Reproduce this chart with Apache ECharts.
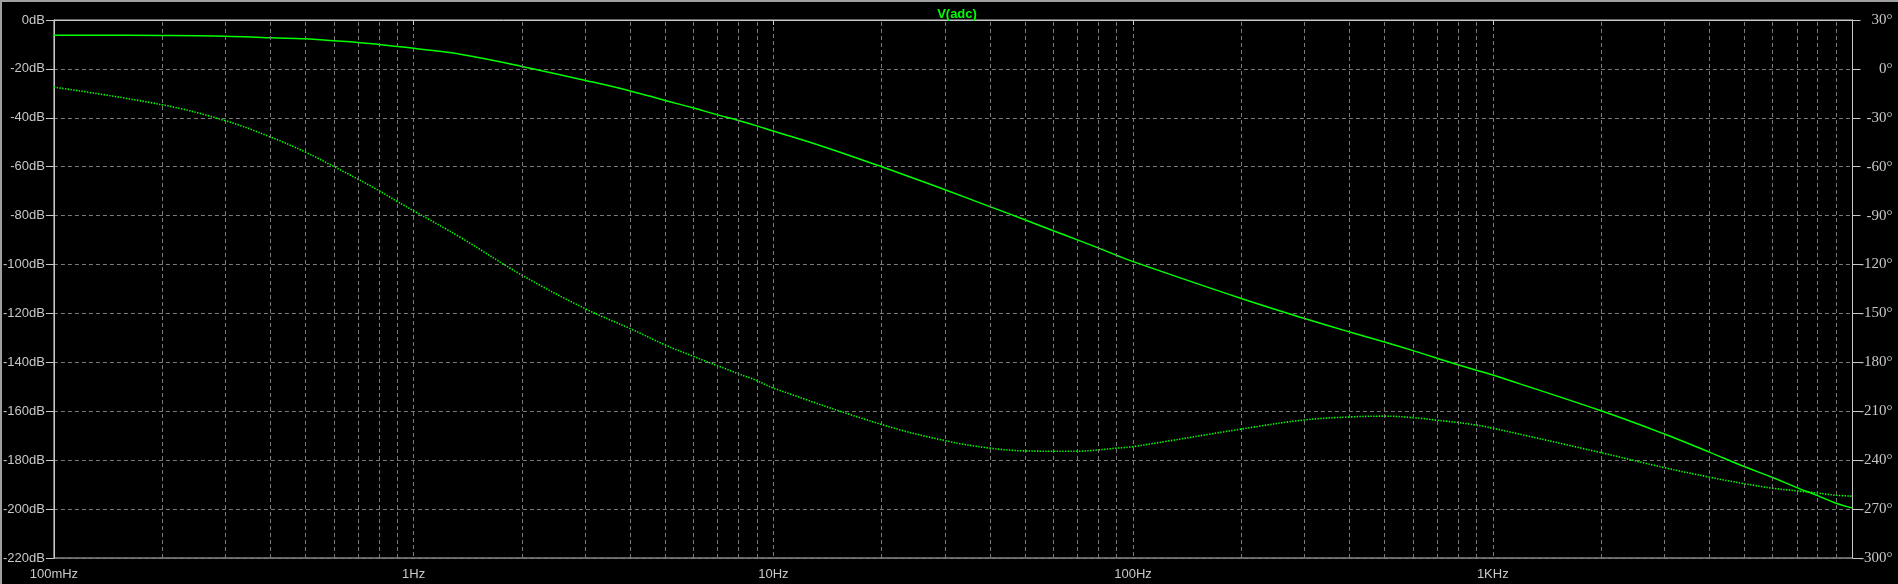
<!DOCTYPE html>
<html>
<head>
<meta charset="utf-8">
<script src="https://cdn.jsdelivr.net/npm/echarts@6/dist/echarts.min.js"></script>
<style>
html,body{margin:0;padding:0;background:#000;}
#c{width:1898px;height:584px;}
</style>
</head>
<body>
<div id="c"></div>
<script>
// Frequencies (Hz) where values were read
const freqs = [0.1,0.2,0.3,0.4,0.5,0.6,0.7,0.8,0.9,1,1.36,2,3,4,5,6,7,8,9,10,13.6,20,30,40,50,60,70,80,90,100,200,300,400,500,600,700,800,900,1000,2000,3000,4000,5000,6000,7000,8000,9000,10000];
// Magnitude of V(adc) in dB (solid)
const magDB = [-6.2,-6.3,-6.6,-7.3,-7.7,-8.5,-9.2,-10.0,-10.8,-11.6,-14.1,-19.0,-24.7,-29.0,-32.9,-36.0,-38.8,-41.1,-43.3,-45.4,-51.5,-60.0,-69.4,-76.3,-81.7,-86.2,-89.9,-93.2,-96.2,-98.8,-113.9,-122.1,-127.6,-131.7,-135.2,-138.3,-141.0,-143.2,-145.2,-159.8,-169.3,-176.7,-182.6,-187.1,-191.2,-194.5,-197.6,-199.6];
// Phase of V(adc) in degrees (dotted)
const phaseFreqs = [0.1,0.2,0.3,0.4,0.5,0.6,0.7,0.8,0.9,1,1.36,2,3,4,5,6,7,8,9,10,20,30,40,50,60,70,80,90,100,200,300,400,500,600,700,800,900,1000,2000,3000,4000,5000,6000,7000,8000,9000,10000];
const phaseDeg = [-11.2,-22.0,-31.8,-41.8,-51.0,-59.9,-67.6,-74.6,-81.3,-87.0,-103.8,-126.5,-147.1,-159.3,-169.3,-176.4,-182.1,-187.0,-191.2,-195.8,-218.1,-228.0,-232.6,-234.3,-234.5,-234.5,-233.7,-232.6,-231.7,-220.9,-215.3,-213.5,-213.0,-213.9,-215.5,-216.9,-218.5,-220.4,-235.4,-244.6,-250.4,-254.4,-257.2,-258.8,-260.2,-261.5,-262.1];
// Minor vertical grid positions (2..9 of each decade)
const minorGrid = [];
[0.1,1,10,100,1000].forEach(d => { for (let k = 2; k <= 9; k++) minorGrid.push(+(d*k).toPrecision(3)); });

const chart = echarts.init(document.getElementById('c'), null, {renderer:'canvas'});
const gridColor = '#7a7a7a';
const axisColor = '#c8c8c8';
const green = '#00ff00';
const fmtFreq = v => v < 1 ? Math.round(v*1000) + 'mHz' : (v < 1000 ? Math.round(v) + 'Hz' : Math.round(v/1000) + 'KHz');

chart.setOption({
  backgroundColor: '#000000',
  animation: false,
  title: {
    text: 'V(adc)', left: 952, top: 3, textAlign: 'center',
    textStyle: {color: green, fontFamily: 'Liberation Sans', fontWeight: 'bold', fontSize: 13}
  },
  graphic: [
    {type:'rect', shape:{x:0,y:0,width:1898,height:2}, style:{fill:'#a0a0a0'}, silent:true},
    {type:'rect', shape:{x:0,y:0,width:2,height:584}, style:{fill:'#a0a0a0'}, silent:true}
  ],
  grid: {left: 52, right: 45.5, top: 20, bottom: 26, show: true, borderColor: axisColor, borderWidth: 1, backgroundColor: '#000'},
  xAxis: {
    type: 'log', logBase: 10, min: 0.1, max: 10000,
    axisLine: {show: true, lineStyle: {color: axisColor}},
    axisTick: {show: true, length: 5, lineStyle: {color: axisColor}},
    axisLabel: {color: axisColor, fontFamily: 'Liberation Sans', fontSize: 13, margin: 10, formatter: fmtFreq, showMaxLabel: false},
    splitLine: {show: true, lineStyle: {color: gridColor, type: [4,3], width: 1}}
  },
  yAxis: [
    {
      type: 'value', min: -220, max: 0, interval: 20, position: 'left',
      axisLine: {show: true, lineStyle: {color: axisColor}},
      axisTick: {show: true, length: 8, lineStyle: {color: axisColor}},
      axisLabel: {color: axisColor, fontFamily: 'Liberation Sans', fontSize: 13, margin: 9, formatter: '{value}dB'},
      splitLine: {show: true, lineStyle: {color: gridColor, type: [4,3], width: 1}}
    },
    {
      type: 'value', min: -300, max: 30, interval: 30, position: 'right',
      axisLine: {show: true, lineStyle: {color: axisColor}},
      axisTick: {show: true, length: 8, lineStyle: {color: axisColor}},
      axisLabel: {color: axisColor, fontFamily: 'Liberation Serif', fontSize: 15, margin: 40, align: 'right', formatter: '{value}°'},
      splitLine: {show: false}
    }
  ],
  series: [
    {
      type: 'line', data: [], z: 1, silent: true,
      markLine: {
        silent: true, symbol: ['none','none'], label: {show: false}, animation: false,
        lineStyle: {color: gridColor, type: [4,3], width: 1},
        data: minorGrid.map(f => ({xAxis: f}))
      }
    },
    {
      name: 'mag', type: 'line', yAxisIndex: 0, z: 3, showSymbol: false, smooth: 0.4,
      data: freqs.map((f,i) => [f, magDB[i]]),
      lineStyle: {color: green, width: 1.5}
    },
    {
      name: 'phase', type: 'line', yAxisIndex: 1, z: 3, showSymbol: false, smooth: 0.4,
      data: phaseFreqs.map((f,i) => [f, phaseDeg[i]]),
      lineStyle: {color: green, width: 1.6, type: [1.4,1.4]}
    }
  ]
});
</script>
</body>
</html>
